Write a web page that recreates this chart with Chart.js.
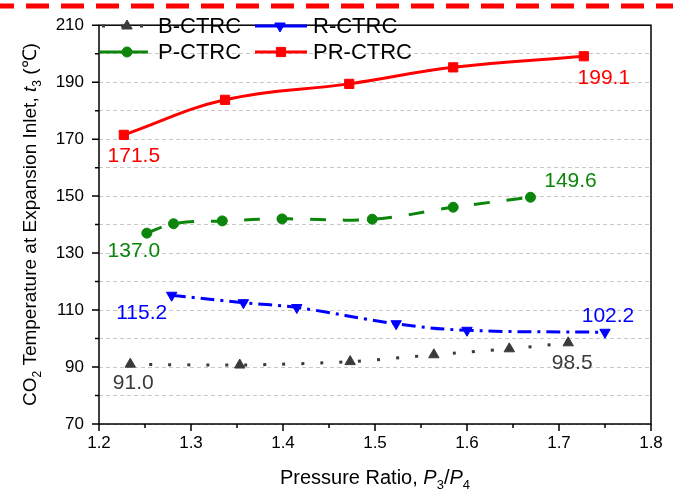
<!DOCTYPE html>
<html>
<head>
<meta charset="utf-8">
<script src="https://cdn.jsdelivr.net/npm/chart.js@4.4.0/dist/chart.umd.min.js"></script>
<style>
  html, body { margin: 0; padding: 0; background: #fff; }
  #wrap { width: 673px; height: 498px; }
</style>
</head>
<body>
<div id="wrap"><canvas id="grafik" width="673" height="498"></canvas></div>
<script>
// data (pressure ratio P3/P4 vs CO2 temperature t3)
const bRatio = [1.234, 1.353, 1.473, 1.564, 1.646, 1.710];
const bTemp = [91.0, 90.7, 91.9, 94.3, 96.4, 98.5];
const rRatio = [1.279, 1.357, 1.415, 1.523, 1.600, 1.750];
const rTemp = [115.2, 112.6, 110.9, 105.2, 102.9, 102.2];
const pRatio = [1.252, 1.281, 1.334, 1.399, 1.497, 1.585, 1.669];
const pTemp = [137.0, 140.3, 141.3, 142.0, 141.9, 146.1, 149.6];
const prRatio = [1.227, 1.337, 1.472, 1.585, 1.727];
const prTemp = [171.5, 183.8, 189.4, 195.2, 199.1];

const yLabelTicks = [70, 90, 110, 130, 150, 170, 190, 210];
const yMinorTicks = [80, 100, 120, 140, 160, 180, 200];
const xLabelTicks = [1.2, 1.3, 1.4, 1.5, 1.6, 1.7, 1.8];
const xMinorTicks = [1.25, 1.35, 1.45, 1.55, 1.65, 1.75];

const FONT = '"Liberation Sans", Arial, sans-serif';

const pts = (xs, ys) => xs.map((x, i) => ({ x: x, y: ys[i] }));

const datasets = [
  { label: "B-CTRC", data: pts(bRatio, bTemp), borderColor: "#3a3a3a", backgroundColor: "#3a3a3a",
    borderWidth: 3, borderDash: [3, 16], pointStyle: "triangle", pointRadius: 6, tension: 0.3 },
  { label: "R-CTRC", data: pts(rRatio, rTemp), borderColor: "#0000ff", backgroundColor: "#0000ff",
    borderWidth: 3, borderDash: [14, 6, 3, 6], pointStyle: "triangle", pointRotation: 180, pointRadius: 6, tension: 0.4 },
  { label: "P-CTRC", data: pts(pRatio, pTemp), borderColor: "#0b860b", backgroundColor: "#0b860b",
    borderWidth: 3, borderDash: [16, 17], pointStyle: "circle", pointRadius: 5, tension: 0.4 },
  { label: "PR-CTRC", data: pts(prRatio, prTemp), borderColor: "#ff0000", backgroundColor: "#ff0000",
    borderWidth: 3, pointStyle: "rect", pointRadius: 6.5, tension: 0.4 }
];
datasets.forEach(d => { d.fill = false; d.pointBorderWidth = 1; d.pointBorderColor = d.borderColor; d.pointBackgroundColor = d.borderColor; });

// where the first / last value labels sit relative to their point
const labelOffsets = [
  [[3, 19], [4, 20]],
  [[-30, 18], [3, -16]],
  [[-13, 18], [40, -16]],
  [[10, 21], [20, 22]]
];

// legend layout: [dataset, lineStart, lineEnd, markerX, textX, y]
const legendItems = [
  [0, 100, 148, 127, 158, 26],
  [1, 255, 307, 280, 313, 26],
  [2, 100, 148, 127, 158, 52],
  [3, 255, 307, 281, 313, 52]
];

const decor = {
  id: "decor",
  afterDatasetsDraw(chart) {
    const ctx = chart.ctx;
    const a = chart.chartArea;
    const xs = chart.scales.x, ys = chart.scales.y;
    ctx.save();

    // frame
    ctx.strokeStyle = "#000";
    ctx.lineWidth = 1.5;
    ctx.strokeRect(a.left, a.top, a.right - a.left, a.bottom - a.top);

    // ticks (outward)
    ctx.beginPath();
    yLabelTicks.forEach(v => { const y = ys.getPixelForValue(v); ctx.moveTo(a.left - 7, y); ctx.lineTo(a.left, y); });
    yMinorTicks.forEach(v => { const y = ys.getPixelForValue(v); ctx.moveTo(a.left - 4, y); ctx.lineTo(a.left, y); });
    xLabelTicks.forEach(v => { const x = xs.getPixelForValue(v); ctx.moveTo(x, a.bottom); ctx.lineTo(x, a.bottom + 7); });
    xMinorTicks.forEach(v => { const x = xs.getPixelForValue(v); ctx.moveTo(x, a.bottom); ctx.lineTo(x, a.bottom + 4); });
    ctx.stroke();

    // first / last value labels
    ctx.font = "21px " + FONT;
    ctx.textAlign = "center";
    ctx.textBaseline = "middle";
    chart.data.datasets.forEach((ds, i) => {
      const meta = chart.getDatasetMeta(i);
      const ends = [0, ds.data.length - 1];
      ends.forEach((idx, k) => {
        const p = meta.data[idx];
        ctx.fillStyle = ds.borderColor;
        ctx.fillText(ds.data[idx].y.toFixed(1), p.x + labelOffsets[i][k][0], p.y + labelOffsets[i][k][1]);
      });
    });

    // legend
    legendItems.forEach(([i, x0, x1, mx, tx, y]) => {
      const ds = chart.data.datasets[i];
      ctx.strokeStyle = ds.borderColor;
      ctx.fillStyle = ds.borderColor;
      ctx.lineWidth = 3;
      ctx.setLineDash(i === 0 ? ds.borderDash : []);
      ctx.lineDashOffset = i === 0 ? -2 : 0;
      ctx.beginPath(); ctx.moveTo(x0, y); ctx.lineTo(x1, y); ctx.stroke();
      ctx.setLineDash([]);
      ctx.lineWidth = 1;
      Chart.helpers.drawPoint(ctx, { pointStyle: ds.pointStyle, rotation: ds.pointRotation || 0, radius: ds.pointRadius, borderWidth: 1 }, mx, y);
      ctx.fillStyle = "#000";
      ctx.font = "22px " + FONT;
      ctx.textAlign = "left";
      ctx.fillText(ds.label, tx, y + 1);
    });

    // axis titles with italic and subscripts
    const parts = (list, size) => list.map(([t, kind]) => {
      const f = (kind === "i" ? "italic " : "") + (kind === "s" ? Math.round(size * 0.65) : size) + "px " + FONT;
      ctx.font = f;
      return { t, f, w: ctx.measureText(t).width, sub: kind === "s" };
    });
    const drawRun = (runs, cx, cy, size) => {
      const total = runs.reduce((s, r) => s + r.w, 0);
      let x = cx - total / 2;
      ctx.textAlign = "left";
      ctx.textBaseline = "alphabetic";
      runs.forEach(r => {
        ctx.font = r.f;
        ctx.fillText(r.t, x, cy + (r.sub ? size * 0.25 : 0));
        x += r.w;
      });
    };
    ctx.fillStyle = "#000";
    const xt = parts([["Pressure Ratio, ", ""], ["P", "i"], ["3", "s"], ["/", ""], ["P", "i"], ["4", "s"]], 20);
    drawRun(xt, (a.left + a.right) / 2, 484, 20);

    const yt = parts([["CO", ""], ["2", "s"], [" Temperature at Expansion Inlet, ", ""], ["t", "i"], ["3", "s"], [" (\u2103)", ""]], 19);
    ctx.save();
    ctx.translate(36, (a.top + a.bottom) / 2);
    ctx.rotate(-Math.PI / 2);
    drawRun(yt, 0, 0, 19);
    ctx.restore();

    // red dashed rule across the top of the figure
    ctx.strokeStyle = "#ff0000";
    ctx.lineWidth = 5;
    ctx.setLineDash([23, 12]);
    ctx.lineDashOffset = 9;
    ctx.beginPath(); ctx.moveTo(0, 6); ctx.lineTo(673, 6); ctx.stroke();

    ctx.restore();
  }
};

new Chart(document.getElementById("grafik"), {
  type: "line",
  data: { datasets: datasets },
  options: {
    responsive: false,
    animation: false,
    devicePixelRatio: 1,
    layout: { padding: { left: 0, right: 22, top: 14, bottom: 0 } },
    plugins: { legend: { display: false }, tooltip: { enabled: false } },
    scales: {
      x: {
        type: "linear", min: 1.2, max: 1.8,
        afterFit: s => { s.height = 74; },
        afterBuildTicks: s => { s.ticks = xLabelTicks.map(v => ({ value: v })); },
        grid: { display: false, drawTicks: false },
        border: { display: false },
        ticks: { color: "#000", font: { size: 17, family: FONT }, padding: 9, callback: v => v.toFixed(1), maxRotation: 0, autoSkip: false }
      },
      y: {
        min: 70, max: 210,
        afterFit: s => { s.width = 99; },
        afterBuildTicks: s => { s.ticks = yLabelTicks.concat(yMinorTicks).sort((p, q) => p - q).map(v => ({ value: v })); },
        grid: { color: "#c8c8c8", lineWidth: 1, drawTicks: false },
        border: { display: false, dash: [4, 3] },
        ticks: { color: "#000", font: { size: 17, family: FONT }, padding: 15, autoSkip: false,
                 callback: v => (yLabelTicks.includes(v) ? String(v) : "") }
      }
    }
  },
  plugins: [decor]
});
</script>
</body>
</html>
